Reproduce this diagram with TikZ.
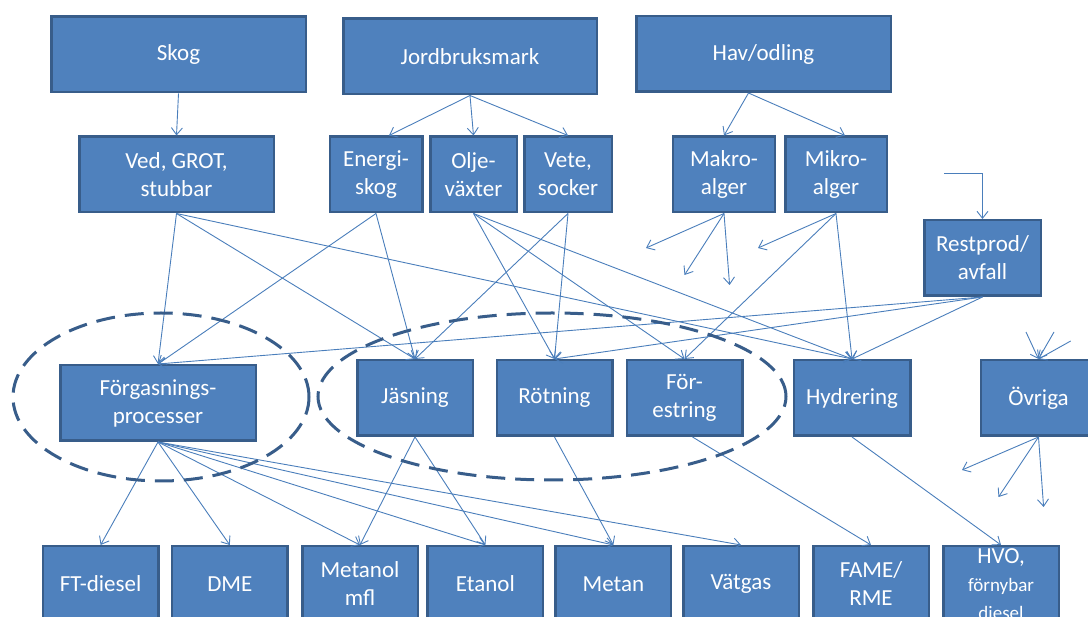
\documentclass[tikz,border=0pt]{standalone}
\usepackage{fontspec}
\setmainfont{Carlito}
\usetikzlibrary{arrows.meta}
\definecolor{boxfill}{HTML}{4F81BD}
\definecolor{boxline}{HTML}{385D8A}
\definecolor{linkblue}{HTML}{4A7EBB}
\tikzset{
  box/.style={draw=boxline,fill=boxfill,line width=2.5pt,text=white,align=center,
    inner sep=0pt,minimum height=75.5pt,font=\fontsize{23}{28}\selectfont},
  link/.style={draw=linkblue,line width=0.9pt,-{Straight Barb[length=7pt,width=11pt]}},
  ring/.style={draw=boxline,line width=3pt,dash pattern=on 19pt off 10pt}
}
\begin{document}
\begin{tikzpicture}[x=1pt,y=-1pt]
\clip (0,0) rectangle (1088,617);
\node[box,minimum width=254.5pt] (skog) at (178.5,54.5) {Skog};
\node[box,minimum width=253.5pt] (jord) at (470,56.5) {Jordbruksmark};
\node[box,minimum width=254.5pt] (hav) at (763.5,54) {Hav/odling};
\node[box,minimum width=194.5pt] (ved) at (176.5,174.5) {Ved, GROT,\\stubbar};
\node[box,minimum width=92.5pt] (energi) at (376,174.5) {Energi-\\skog};
\node[box,minimum width=86.5pt] (olje) at (473.5,174.5) {Olje-\\växter};
\node[box,minimum width=87.5pt] (vete) at (568,174.5) {Vete,\\socker};
\node[box,minimum width=102pt] (makro) at (724,174.5) {Makro-\\alger};
\node[box,minimum width=101.5pt] (mikro) at (836,174.5) {Mikro-\\alger};
\node[box,minimum width=116.5pt] (rest) at (982.5,258) {Restprod/\\avfall};
\node[box,minimum width=195.5pt] (forg) at (158,403) {Förgasnings-\\processer};
\node[box,minimum width=115.5pt] (jas) at (415,398) {Jäsning};
\node[box,minimum width=115.5pt] (rot) at (554.5,398) {Rötning};
\node[box,minimum width=115.5pt] (fore) at (684.5,398) {För-\\estring};
\node[box,minimum width=116.5pt] (hyd) at (852,398) {Hydrering};
\node[box,minimum width=115.5pt] (ovr) at (1038.5,398) {Övriga};
\node[box,minimum width=115.5pt] (ft) at (100.6,584) {FT-diesel};
\node[box,minimum width=115.5pt] (dme) at (229.8,584) {DME};
\node[box,minimum width=115.5pt] (metanol) at (360,584) {Metanol\\mfl};
\node[box,minimum width=115.5pt] (etanol) at (485.4,584) {Etanol};
\node[box,minimum width=115.5pt] (metan) at (613.4,584) {Metan};
\node[box,minimum width=115.5pt] (vatgas) at (741,584) {Vätgas};
\node[box,minimum width=115.5pt] (fame) at (871,584) {FAME/\\RME};
\node[box,minimum width=115.5pt] (hvo) at (1001,584) {HVO,\\\fontsize{19}{23}\selectfont förnybar\\\fontsize{19}{23}\selectfont diesel};
\coordinate (restin) at (944,173);
\coordinate (m1) at (646,248);
\coordinate (m2) at (684.5,275);
\coordinate (m3) at (729.6,285);
\coordinate (k1) at (758,248);
\coordinate (o1) at (1026,332);
\coordinate (o2) at (1054,332);
\coordinate (o3) at (1070.7,341);
\coordinate (p1) at (962,470);
\coordinate (p2) at (998.5,497);
\coordinate (p3) at (1043.6,507);
\draw[link] (skog.south) -- (ved.north);
\draw[link] (jord.south) -- ([xshift=13pt]energi.north);
\draw[link] (jord.south) -- (olje.north);
\draw[link] (jord.south) -- (vete.north);
\draw[link] ([xshift=-15pt]hav.south) -- (makro.north);
\draw[link] ([xshift=-15pt]hav.south) -- ([xshift=9pt]mikro.north);
\draw[link] (restin) -| (rest.north);
\draw[link] (ved.south) -- (forg.north);
\draw[link] (ved.south) -- (jas.north);
\draw[link] (ved.south) -- (hyd.north);
\draw[link] (energi.south) -- (forg.north);
\draw[link] (energi.south) -- (jas.north);
\draw[link] (olje.south) -- (rot.north);
\draw[link] (olje.south) -- (fore.north);
\draw[link] (olje.south) -- (hyd.north);
\draw[link] (vete.south) -- (jas.north);
\draw[link] (vete.south) -- (rot.north);
\draw[link] (makro.south) -- (m1);
\draw[link] (makro.south) -- (m2);
\draw[link] (makro.south) -- (m3);
\draw[link] (mikro.south) -- (k1);
\draw[link] (mikro.south) -- (fore.north);
\draw[link] (mikro.south) -- (hyd.north);
\draw[link] (rest.south) -- (forg.north);
\draw[link] (rest.south) -- (rot.north);
\draw[link] (rest.south) -- (hyd.north);
\draw[link] (o1) -- (ovr.north);
\draw[link] (o2) -- (ovr.north);
\draw[link] (o3) -- (ovr.north);
\draw[link] (ovr.south) -- (p1);
\draw[link] (ovr.south) -- (p2);
\draw[link] (ovr.south) -- (p3);
\draw[link] (forg.south) -- (ft.north);
\draw[link] (forg.south) -- (dme.north);
\draw[link] (forg.south) -- (metanol.north);
\draw[link] (forg.south) -- (etanol.north);
\draw[link] (forg.south) -- (metan.north);
\draw[link] (forg.south) -- (vatgas.north);
\draw[link] (jas.south) -- (metanol.north);
\draw[link] (jas.south) -- (etanol.north);
\draw[link] (rot.south) -- (metan.north);
\draw[link] ([xshift=8pt]fore.south) -- (fame.north);
\draw[link] (hyd.south) -- (hvo.north);
\draw[ring] (161,397) ellipse [x radius=148pt,y radius=84pt];
\draw[ring] (552,396.5) ellipse [x radius=234pt,y radius=83.5pt];
\end{tikzpicture}
\end{document}
